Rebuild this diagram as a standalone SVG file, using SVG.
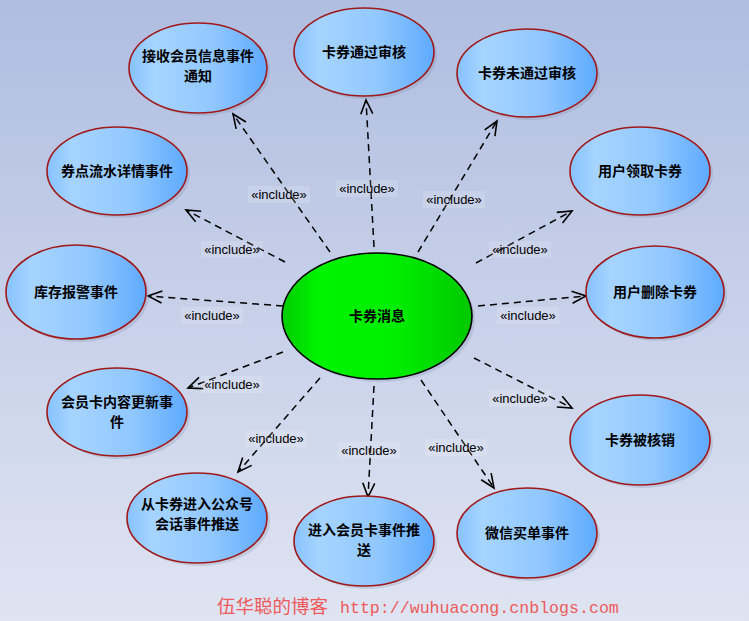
<svg xmlns="http://www.w3.org/2000/svg" width="749" height="621" viewBox="0 0 749 621">
<defs>
<linearGradient id="bg" x1="0" y1="0" x2="0" y2="1">
<stop offset="0" stop-color="#afbde0"/>
<stop offset="1" stop-color="#dfe4f2"/>
</linearGradient>
<linearGradient id="blue" x1="0" y1="0" x2="1" y2="0">
<stop offset="0" stop-color="#86c2ff"/>
<stop offset="0.18" stop-color="#a6d4ff"/>
<stop offset="0.6" stop-color="#92c8ff"/>
<stop offset="1" stop-color="#5eaaff"/>
</linearGradient>
<linearGradient id="green" x1="0" y1="0" x2="1" y2="0">
<stop offset="0" stop-color="#00cc00"/>
<stop offset="0.2" stop-color="#00f400"/>
<stop offset="0.6" stop-color="#00ee00"/>
<stop offset="1" stop-color="#00c800"/>
</linearGradient>
<marker id="arr" markerUnits="userSpaceOnUse" markerWidth="18" markerHeight="16" refX="15" refY="7" orient="auto">
<path d="M1,1 L15,7 L1,13" fill="none" stroke="#000" stroke-width="1.6"/>
</marker>
</defs>
<style>
.node ellipse.sh{fill:#7a86a8;opacity:0.25}
.node ellipse.b{fill:url(#blue);stroke:#a01818;stroke-width:1.6}
.node text{font-family:"Noto Sans CJK SC","Liberation Sans",sans-serif;font-size:14px;font-weight:bold;fill:#000;text-anchor:middle}
.conn line{stroke:#000;stroke-width:1.5;stroke-dasharray:7 5;marker-end:url(#arr)}
.lbl rect{fill:#ffffff;opacity:0.15}
.lbl text{font-family:"Liberation Sans",Arial,sans-serif;font-size:13px;fill:#000;text-anchor:middle}
</style>
<rect x="0" y="0" width="749" height="621" fill="url(#bg)"/>

<g id="connectors" class="conn">
<line x1="330" y1="252" x2="233" y2="114"/>
<line x1="374" y1="247" x2="366" y2="100"/>
<line x1="418" y1="252" x2="497" y2="121"/>
<line x1="476" y1="263" x2="572" y2="211"/>
<line x1="478" y1="306" x2="586" y2="296"/>
<line x1="474" y1="358" x2="572" y2="408"/>
<line x1="421" y1="380" x2="494" y2="488"/>
<line x1="374" y1="386" x2="368" y2="497"/>
<line x1="320" y1="378" x2="238" y2="472"/>
<line x1="283" y1="352" x2="188" y2="388"/>
<line x1="283" y1="306" x2="148" y2="296"/>
<line x1="285" y1="262" x2="186" y2="210"/>
</g>

<g id="labels" class="lbl">
<g><rect x="248" y="186" width="62" height="17"/><text x="279" y="199">«include»</text></g>
<g><rect x="336" y="180" width="62" height="17"/><text x="367" y="193">«include»</text></g>
<g><rect x="423" y="191" width="62" height="17"/><text x="454" y="204">«include»</text></g>
<g><rect x="489" y="241" width="62" height="17"/><text x="520" y="254">«include»</text></g>
<g><rect x="497" y="307" width="62" height="17"/><text x="528" y="320">«include»</text></g>
<g><rect x="489" y="390" width="62" height="17"/><text x="520" y="403">«include»</text></g>
<g><rect x="425" y="439" width="62" height="17"/><text x="456" y="452">«include»</text></g>
<g><rect x="338" y="442" width="62" height="17"/><text x="369" y="455">«include»</text></g>
<g><rect x="245" y="430" width="62" height="17"/><text x="276" y="443">«include»</text></g>
<g><rect x="201" y="376" width="62" height="17"/><text x="232" y="389">«include»</text></g>
<g><rect x="181" y="307" width="62" height="17"/><text x="212" y="320">«include»</text></g>
<g><rect x="201" y="241" width="62" height="17"/><text x="232" y="254">«include»</text></g>
</g>

<g id="center" class="node">
<ellipse class="sh" cx="380" cy="319" rx="95" ry="63"/>
<ellipse cx="377" cy="316" rx="95" ry="63" fill="url(#green)" stroke="#000" stroke-width="1.6"/>
<text x="377" y="321">卡券消息</text>
</g>

<g id="n1" class="node">
<ellipse class="sh" cx="201" cy="71" rx="69" ry="45"/>
<ellipse class="b" cx="198" cy="68" rx="69" ry="45"/>
<text x="198" y="61">接收会员信息事件</text>
<text x="198" y="81">通知</text>
</g>
<g id="n2" class="node">
<ellipse class="sh" cx="367" cy="55" rx="70" ry="44"/>
<ellipse class="b" cx="364" cy="52" rx="70" ry="44"/>
<text x="364" y="57">卡券通过审核</text>
</g>
<g id="n3" class="node">
<ellipse class="sh" cx="530" cy="76" rx="70" ry="44"/>
<ellipse class="b" cx="527" cy="73" rx="70" ry="44"/>
<text x="527" y="78">卡券未通过审核</text>
</g>
<g id="n4" class="node">
<ellipse class="sh" cx="643" cy="174" rx="70" ry="44"/>
<ellipse class="b" cx="640" cy="171" rx="70" ry="44"/>
<text x="640" y="176">用户领取卡券</text>
</g>
<g id="n5" class="node">
<ellipse class="sh" cx="658" cy="295" rx="69" ry="46"/>
<ellipse class="b" cx="655" cy="292" rx="69" ry="46"/>
<text x="655" y="297">用户删除卡券</text>
</g>
<g id="n6" class="node">
<ellipse class="sh" cx="643" cy="443" rx="70" ry="45"/>
<ellipse class="b" cx="640" cy="440" rx="70" ry="45"/>
<text x="640" y="445">卡券被核销</text>
</g>
<g id="n7" class="node">
<ellipse class="sh" cx="530" cy="536" rx="70" ry="45"/>
<ellipse class="b" cx="527" cy="533" rx="70" ry="45"/>
<text x="527" y="538">微信买单事件</text>
</g>
<g id="n8" class="node">
<ellipse class="sh" cx="367" cy="544" rx="70" ry="45"/>
<ellipse class="b" cx="364" cy="541" rx="70" ry="45"/>
<text x="364" y="535">进入会员卡事件推</text>
<text x="364" y="555">送</text>
</g>
<g id="n9" class="node">
<ellipse class="sh" cx="200" cy="521" rx="70" ry="45"/>
<ellipse class="b" cx="197" cy="518" rx="70" ry="45"/>
<text x="197" y="509">从卡券进入公众号</text>
<text x="197" y="529">会话事件推送</text>
</g>
<g id="n10" class="node">
<ellipse class="sh" cx="120" cy="415" rx="70" ry="44"/>
<ellipse class="b" cx="117" cy="412" rx="70" ry="44"/>
<text x="117" y="407">会员卡内容更新事</text>
<text x="117" y="427">件</text>
</g>
<g id="n11" class="node">
<ellipse class="sh" cx="79" cy="295" rx="70" ry="47"/>
<ellipse class="b" cx="76" cy="292" rx="70" ry="47"/>
<text x="76" y="297">库存报警事件</text>
</g>
<g id="n12" class="node">
<ellipse class="sh" cx="120" cy="174" rx="70" ry="44"/>
<ellipse class="b" cx="117" cy="171" rx="70" ry="44"/>
<text x="117" y="176">券点流水详情事件</text>
</g>

<g id="watermark">
<text x="217" y="613" font-family="Noto Sans CJK SC, sans-serif" font-size="18.5" fill="#ee5a5a">伍华聪的博客</text>
<text x="340" y="613" font-family="Liberation Mono, monospace" font-size="16.6" fill="#ee5a5a">http://wuhuacong.cnblogs.com</text>
</g>
</svg>
